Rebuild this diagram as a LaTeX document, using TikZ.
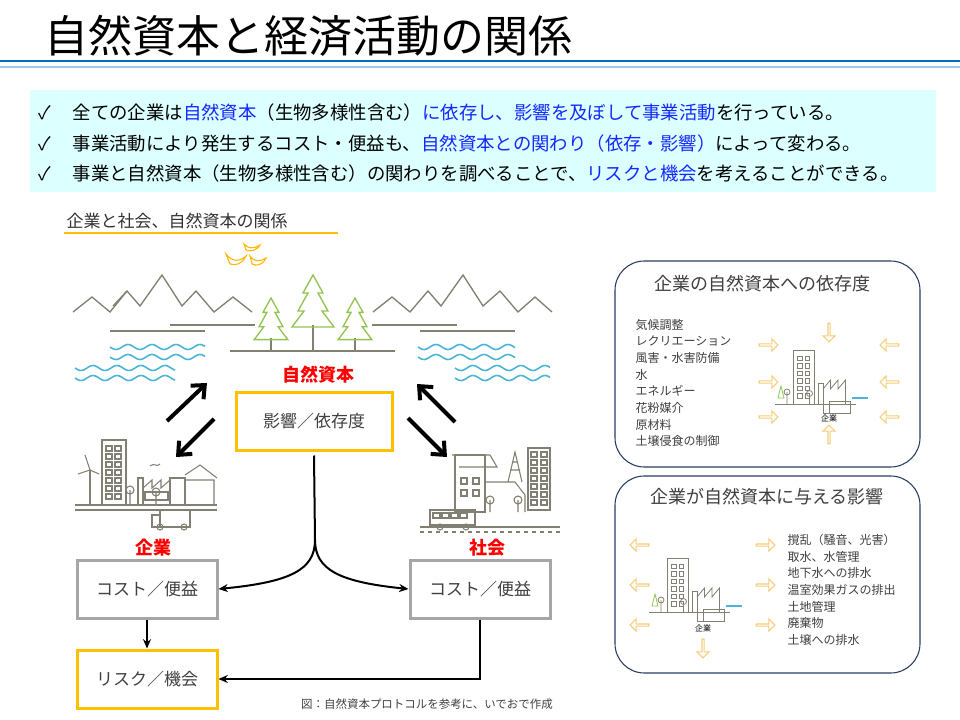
\documentclass[tikz,border=0pt]{standalone}
\usepackage{fontspec}
\setmainfont{Noto Sans CJK JP}
\usetikzlibrary{arrows.meta,shapes.arrows}
\definecolor{tblue}{RGB}{0,112,192}
\definecolor{lblue}{RGB}{155,200,235}
\definecolor{cyanbg}{RGB}{220,255,255}
\definecolor{hblue}{RGB}{20,40,255}
\definecolor{gold}{RGB}{255,192,0}
\definecolor{lgold}{RGB}{245,205,120}
\definecolor{mgray}{RGB}{166,166,166}
\definecolor{ink}{RGB}{130,128,115}
\definecolor{tgreen}{RGB}{146,196,80}
\definecolor{wave}{RGB}{75,180,215}
\definecolor{navy}{RGB}{40,60,100}
\definecolor{tred}{RGB}{255,0,0}
\newcommand\minico[1]{%
 \begin{scope}[shift={#1},scale=1.5,ink,line width=0.6pt]
  \draw (-32,8) -- (22,8);
  \draw (-20,-28) rectangle (-6,8);
  \foreach \yy in {-24,-19,...,4}{\draw (-17,\yy) rectangle ++(3,3); \draw (-12,\yy) rectangle ++(3,3);}
  \draw (-3,8) -- (-3,-6) -- (0,-6) -- (0,8);
  \draw (0,-2) -- (5,-8) -- (5,-2) -- (10,-8) -- (10,-2) -- (15,-8) -- (15,8);
  \draw (-24,8) -- (-24,0) circle (2);
  \draw (-9,8) -- (-9,1) circle (2);
  \draw (4,6) rectangle (18,14); \draw (0,8) rectangle (4,14);
  \draw[tgreen] (-30,4) -- (-28,-4) -- (-26,4) -- cycle;
  \draw[wave,line width=1pt] (19,4) -- (30,4);
 \end{scope}}
\tikzset{
 chk/.style={anchor=west,font=\fontsize{13.8pt}{15pt}\selectfont},
 orbox/.style={draw=gold,line width=2.25pt,minimum width=117pt,minimum height=43.5pt,font=\fontsize{12.75pt}{14pt}\selectfont,text=black!75},
 grbox/.style={draw=mgray,line width=2.25pt,minimum width=105pt,minimum height=43.5pt,font=\fontsize{12.75pt}{14pt}\selectfont,text=black!75},
 bigarr/.style={line width=3pt,-{Straight Barb[length=8pt,width=14pt,line width=3pt]}},
 flow/.style={line width=1.5pt,-{Stealth[length=7pt,width=6pt]}},
 redl/.style={text=tred,font=\bfseries\fontsize{13.5pt}{14pt}\selectfont},
 panel/.style={draw=navy,line width=0.8pt,rounded corners=22pt},
 oarr/.style={single arrow,draw=lgold,line width=0.9pt,minimum height=14pt,minimum width=9pt,single arrow head extend=2pt,inner sep=0pt},
 lst/.style={anchor=west,font=\fontsize{9pt}{12.5pt}\selectfont,text=black!75,align=left},
}
\begin{document}
\begin{tikzpicture}[x=0.75pt,y=-0.75pt]
\useasboundingbox (0,0) rectangle (960,720);
\fill[white] (0,0) rectangle (960,720);
% title
\node[anchor=west,font=\fontsize{33pt}{36pt}\selectfont] (title) at (40,36) {自然資本と経済活動の関係};
\draw[tblue,line width=2.2pt] (0,61) -- (960,61);
\draw[lblue,line width=1.2pt] (0,67) -- (960,67);
% cyan box
\fill[cyanbg] (30,90) rectangle (936,192);
\node[chk] (l1) at (34,113) {✓\hspace{16pt}全ての企業は\textcolor{hblue}{自然資本}（生物多様性含む）\textcolor{hblue}{に依存し、影響を及ぼして事業活動}を行っている。};
\node[chk] (l2) at (34,144) {✓\hspace{16pt}事業活動により発生するコスト・便益も、\textcolor{hblue}{自然資本との関わり（依存・影響）}によって変わる。};
\node[chk] (l3) at (34,174) {✓\hspace{16pt}事業と自然資本（生物多様性含む）の関わりを調べることで、\textcolor{hblue}{リスクと機会}を考えることができる。};
% subtitle
\node[anchor=west,font=\fontsize{12.75pt}{14pt}\selectfont,text=black!80] (sub) at (62,221) {企業と社会、自然資本の関係};
\draw[gold,line width=1.2pt] (64,233) -- (338,233);
% birds
\begin{scope}[gold!85!orange,line width=0.8pt]
\draw (226,254) .. controls (232,262) and (240,262) .. (246,256) .. controls (242,264) and (236,266) .. (230,264) -- cycle;
\draw (250,256) .. controls (254,262) and (260,262) .. (266,258) .. controls (262,266) and (256,266) .. (252,264) -- cycle;
\draw (244,244) .. controls (248,249) and (254,249) .. (260,245) .. controls (256,251) and (250,252) .. (246,250) -- cycle;
\end{scope}
% mountains
\draw[ink,line width=1pt] (73,312) -- (92,297) -- (110,312) -- (127,291) -- (140,306) -- (162,275) -- (182,306) -- (196,291) -- (214,312) -- (233,297) -- (252,312);
\draw[ink,line width=1pt] (113,306) -- (127,291);
\draw[ink,line width=1pt] (373,312) -- (392,297) -- (410,312) -- (428,291) -- (441,306) -- (463,275) -- (483,306) -- (500,291) -- (518,312) -- (535,297) -- (552,312);
\draw[ink,line width=1pt] (110,331) -- (205,331) (170,325) -- (255,325) (230,351) -- (395,351) (372,325) -- (457,325) (420,331) -- (515,331);
% trees
\foreach \tx/\ty/\tb/\s in {271/298/351/0.8,313/275/351/1,355/298/351/0.8}{
 \draw[ink,line width=1pt] (\tx,\tb) -- (\tx,\ty+50*\s);
 \draw[tgreen,line width=1pt] (\tx,\ty) -- (\tx+10*\s,\ty+18*\s) -- (\tx+5*\s,\ty+18*\s) -- (\tx+15*\s,\ty+36*\s) -- (\tx+9*\s,\ty+36*\s) -- (\tx+21*\s,\ty+52*\s) -- (\tx-21*\s,\ty+52*\s) -- (\tx-9*\s,\ty+36*\s) -- (\tx-15*\s,\ty+36*\s) -- (\tx-5*\s,\ty+18*\s) -- (\tx-10*\s,\ty+18*\s) -- cycle;
}
% waves
\foreach \wx/\wy/\wl in {110/347/95,110/357/95,75/368/100,75/378/100,418/347/97,418/357/97,455/368/95,455/378/95}{
 \draw[wave,line width=1.2pt,domain=0:\wl,samples=60] plot ({\wx+\x},{\wy+2.5*sin(\x*15)});
}
% natural capital
\node[redl] (nc) at (318,375) {自然資本};
\node[orbox] (imp) at (314,421) {影響／依存度};
% arrows
\coordinate (a1s) at (167,421); \coordinate (a1e) at (207,383);
\coordinate (a2s) at (214,419); \coordinate (a2e) at (176,457);
\coordinate (a3s) at (455,422); \coordinate (a3e) at (417,384);
\coordinate (a4s) at (408,418); \coordinate (a4e) at (447,457);
\draw[bigarr] (a1s) -- (a1e);
\draw[bigarr] (a2s) -- (a2e);
\draw[bigarr] (a3s) -- (a3e);
\draw[bigarr] (a4s) -- (a4e);
% company illustration
\begin{scope}[ink,line width=0.8pt]
\draw (75,505) -- (217,505) (75,510) -- (217,510);
\draw (102,440) rectangle (126,505);
\foreach \yy in {446,454,...,494}{\draw (106,\yy) rectangle ++(6,5); \draw (115,\yy) rectangle ++(6,5);}
\draw (90,505) -- (90,470); \draw (90,470) -- (85,455) (90,470) -- (78,474) (90,470) -- (99,474);
\draw (138,505) -- (138,478) -- (143,478) -- (143,505);
\draw (143,488) -- (152,480) -- (152,488) -- (161,480) -- (161,488) -- (170,480) -- (170,505);
\draw (170,505) -- (170,478) -- (185,478) -- (185,505);
\draw (185,480) -- (214,480) -- (214,505) (185,475) -- (200,465) -- (217,478);
\draw (145,492) rectangle (168,500);
\draw (150,466) .. controls (154,462) and (157,468) .. (160,464);
\draw (130,505) -- (130,490) circle (4);
\draw (156,505) -- (156,492) circle (4);
\draw (160,510) rectangle (190,527); \draw (152,515) -- (160,515) -- (160,527) -- (152,527) -- cycle;
\draw (160,527) circle (3) (184,527) circle (3);
\end{scope}
% society illustration
\begin{scope}[ink,line width=0.8pt]
\draw (420,527) -- (560,527);
\draw[dashed] (420,532) -- (560,532);
\draw (455,455) rectangle (485,512);
\draw (452,455) -- (490,455) -- (497,467) -- (459,467);
\draw (461,478) rectangle (467,484) (473,478) rectangle (479,484) (461,490) rectangle (467,496) (473,490) rectangle (479,496);
\draw (485,512) -- (485,482) -- (515,482) -- (525,495) -- (525,512);
\draw (528,448) rectangle (550,510);
\foreach \yy in {452,460,...,500}{\draw (531,\yy) rectangle ++(6,5); \draw (541,\yy) rectangle ++(6,5);}
\draw (508,482) -- (515,452) -- (522,482) (510,470) -- (520,470) (512,462) -- (518,462);
\draw (430,510) rectangle (475,525);
\foreach \bx in {433,442,451,460}{\draw (\bx,513) rectangle ++(7,5);}
\draw (440,527) circle (3) (466,527) circle (3);
\draw (490,512) -- (490,500) circle (4);
\draw (518,512) -- (518,500) circle (4);
\end{scope}
\node[redl] (co) at (153,548) {企業};
\node[redl] (so) at (487,548) {社会};
% boxes
\node[grbox] (cbl) at (147,589) {コスト／便益};
\node[grbox] (cbr) at (480,589) {コスト／便益};
\node[orbox,minimum width=105pt] (risk) at (147,679) {リスク／機会};
% flows
\coordinate (split) at (315,540);
\draw[line width=1.5pt] (imp.south) ++(0,4) -- (split);
\draw[flow] (split) .. controls (315,570) and (290,582) .. (cbl.east);
\draw[flow] (split) .. controls (315,570) and (340,582) .. (cbr.west);
\draw[flow] (cbl.south) -- (risk.north);
\draw[flow] (cbr.south) -- (cbr.south |- risk) -- (risk.east);
\node[font=\fontsize{8.6pt}{9pt}\selectfont,text=black!75] (cap) at (427,704) {図：自然資本プロトコルを参考に、いでおで作成};
% panel 1
\draw[panel] (615,261) rectangle (920,467);
\node[font=\fontsize{13.5pt}{15pt}\selectfont,text=black!75] (p1t) at (762,284) {企業の自然資本への依存度};
\node[lst] (p1l) at (631,383) {気候調整\\レクリエーション\\風害・水害防備\\水\\エネルギー\\花粉媒介\\原材料\\土壌侵食の制御};
\minico{(823,392)}
\node[font=\fontsize{6pt}{7pt}\selectfont] (p1c) at (829,418) {企業};
\foreach \yy in {345,382,417}{\node[oarr] at (768,\yy) {}; \node[oarr,shape border rotate=180] at (890,\yy) {};}
\node[oarr,shape border rotate=270] (d1) at (829,332) {};
\node[oarr,shape border rotate=90] (u1) at (829,435) {};
% panel 2
\draw[panel] (615,476) rectangle (920,673);
\node[font=\fontsize{13.5pt}{15pt}\selectfont,text=black!75] (p2t) at (767,497) {企業が自然資本に与える影響};
\node[lst] (p2l) at (783,590) {撹乱（騒音、光害）\\取水、水管理\\地下水への排水\\温室効果ガスの排出\\土地管理\\廃棄物\\土壌への排水};
\minico{(697,600)}
\node[font=\fontsize{6pt}{7pt}\selectfont] (p2c) at (703,628) {企業};
\foreach \yy in {545,585,625}{\node[oarr,shape border rotate=180] at (640,\yy) {}; \node[oarr] at (765,\yy) {};}
\node[oarr,shape border rotate=270] (d2) at (703,648) {};
\end{tikzpicture}
\end{document}
